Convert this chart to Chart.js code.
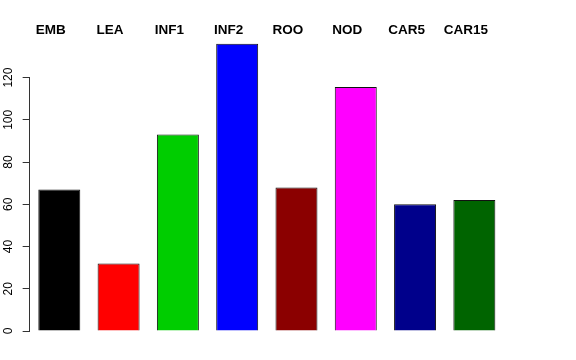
<!DOCTYPE html>
<html>
<head>
<meta charset="utf-8">
<script src="https://cdn.jsdelivr.net/npm/chart.js@4.4.0/dist/chart.umd.min.js"></script>
<style>
  html, body { margin: 0; padding: 0; background: #fff; }
  #wrap { width: 576px; height: 360px; }
</style>
</head>
<body>
<div id="wrap"><canvas id="myChart" width="576" height="360"></canvas></div>
<script>
var categories = ["EMB", "LEA", "INF1", "INF2", "ROO", "NOD", "CAR5", "CAR15"];
var values = [67, 32, 93, 136, 68, 115.5, 60, 62];
var barColors = ["#000000", "#ff0000", "#00cd00", "#0000ff", "#8b0000", "#ff00ff", "#00008b", "#006400"];
var yTicks = [0, 20, 40, 60, 80, 100, 120];

// axis line only from first to last tick, like R
var rAxis = {
    id: 'rAxis',
    afterDraw: function (chart) {
        var c = chart.ctx;
        var y = chart.scales.y;
        var x = Math.round(chart.chartArea.left) - 0.5;
        c.save();
        c.strokeStyle = '#333';
        c.lineWidth = 1;
        c.beginPath();
        c.moveTo(x, y.getPixelForValue(yTicks[0]));
        c.lineTo(x, y.getPixelForValue(yTicks[yTicks.length - 1]));
        c.stroke();
        c.restore();
    }
};

// group names across the top
var topLabels = {
    id: 'topLabels',
    afterDraw: function (chart) {
        var c = chart.ctx;
        var xs = chart.scales.x;
        c.save();
        c.fillStyle = '#000';
        c.font = 'bold 13.5px "Liberation Sans", Arial, sans-serif';
        c.textAlign = 'center';
        c.textBaseline = 'alphabetic';
        categories.forEach(function (lab, i) {
            c.fillText(lab, xs.getPixelForValue(i) - 8.5, 34);
        });
        c.restore();
    }
};

var ctx = document.getElementById("myChart").getContext('2d');
var myChart = new Chart(ctx, {
    type: 'bar',
    data: {
        labels: categories,
        datasets: [{
            data: values,
            backgroundColor: barColors,
            borderColor: '#111',
            borderWidth: 1,
            barPercentage: 0.708,
            categoryPercentage: 1
        }]
    },
    options: {
        responsive: false,
        animation: false,
        layout: {
            padding: { top: 41.7, right: 72, bottom: 29, left: 0 }
        },
        plugins: {
            legend: { display: false },
            tooltip: { enabled: false }
        },
        scales: {
            x: {
                display: false
            },
            y: {
                min: 0,
                max: 137,
                afterFit: function (scale) { scale.width = 29.65; },
                afterBuildTicks: function (scale) {
                    scale.ticks = yTicks.map(function (v) { return { value: v }; });
                },
                border: { display: false },
                grid: {
                    drawOnChartArea: false,
                    drawTicks: true,
                    tickLength: 7,
                    color: '#333'
                },
                ticks: {
                    minRotation: 90,
                    maxRotation: 90,
                    crossAlign: 'center',
                    padding: 4,
                    color: '#000',
                    font: { family: '"Liberation Sans", Arial, sans-serif', size: 12 }
                }
            }
        }
    },
    plugins: [rAxis, topLabels]
});
</script>
</body>
</html>
